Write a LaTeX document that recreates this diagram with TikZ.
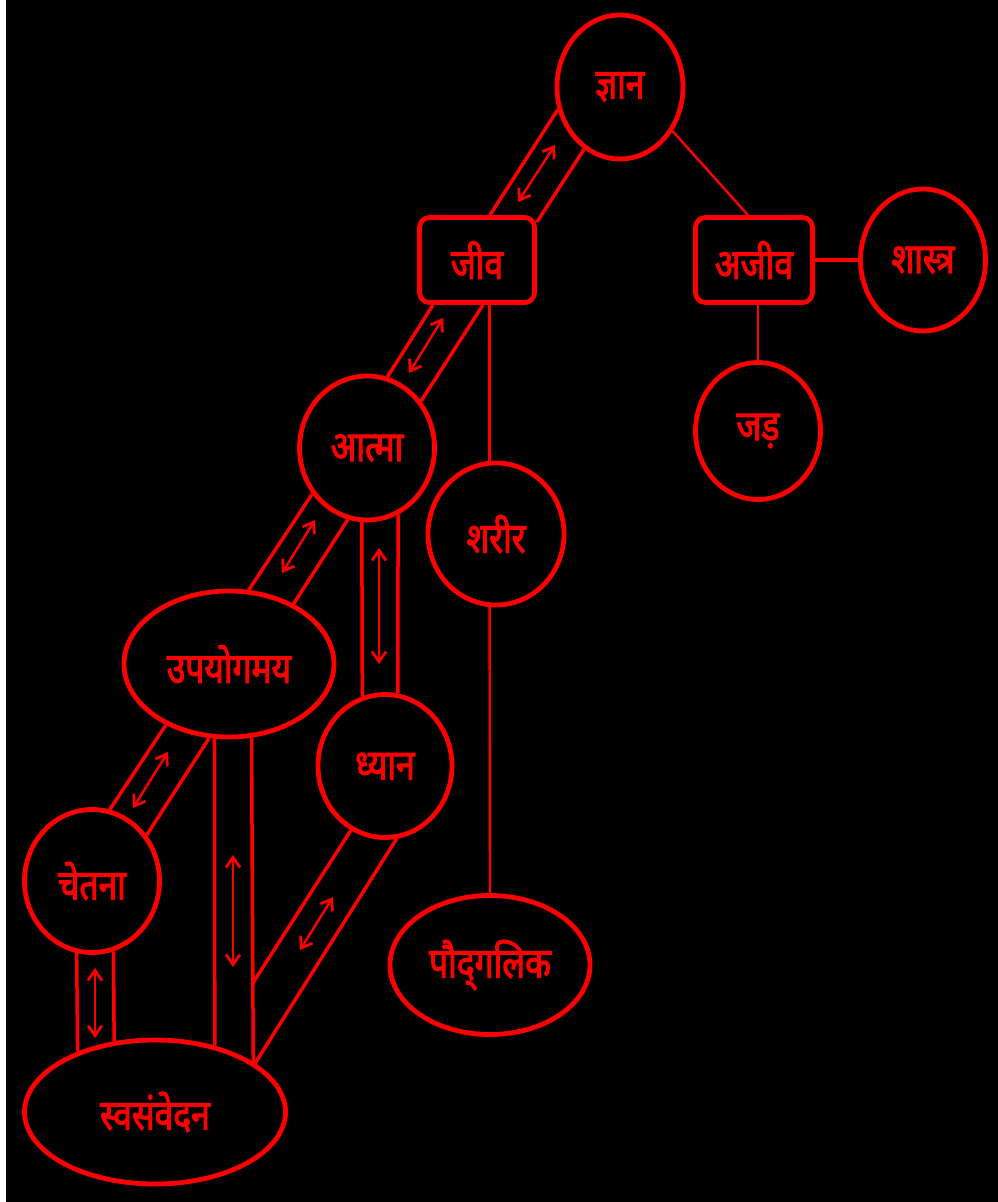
\documentclass[tikz,border=0pt]{standalone}
\usepackage{fontspec}
\newfontfamily\dev[Script=Devanagari,FakeBold=2.5,FakeStretch=0.8]{Noto Sans}
\usetikzlibrary{shapes.geometric,arrows.meta,calc}
\begin{document}
\begin{tikzpicture}[x=1pt,y=-1pt,
  lbl/.style={text=red,inner sep=0pt,outer sep=2.4pt,draw=red,line width=4.8pt,font=\dev\fontsize{42}{44}\selectfont},
  ell/.style={lbl,ellipse},
  box/.style={lbl,rectangle,rounded corners=10pt},
  band/.style={draw=red,line width=3.5pt},
  thin/.style={draw=red,line width=2.4pt},
  dbl/.style={draw=red,line width=2.4pt,{Straight Barb[length=10pt,width=14pt,line width=2.8pt]}-{Straight Barb[length=10pt,width=14pt,line width=2.8pt]}}]
\fill[white] (0,0) rectangle (998,1202);
\fill[black] (6,0) rectangle (998,1202);
\useasboundingbox (0,0) rectangle (998,1202);

% nodes
\node[ell,minimum width=126,minimum height=144] (zn) at (620,87) {ज्ञान};
\node[box,minimum width=115,minimum height=85] (jiva) at (477,260) {जीव};
\node[box,minimum width=117,minimum height=85] (ajiva) at (754,260) {अजीव};
\node[ell,minimum width=125,minimum height=142] (shas) at (923,260) {शास्त्र};
\node[ell,minimum width=125,minimum height=137] (jad) at (758,431) {जड़};
\node[ell,minimum width=135,minimum height=144] (atma) at (367,448) {आत्मा};
\node[ell,minimum width=136,minimum height=142] (shar) at (496,534) {शरीर};
\node[ell,minimum width=210,minimum height=146] (upay) at (229,664) {उपयोगमय};
\node[ell,minimum width=134,minimum height=143] (dhy) at (385,766) {ध्यान};
\node[ell,minimum width=135,minimum height=143] (chet) at (92,881) {चेतना};
\node[ell,minimum width=261,minimum height=144] (svas) at (155,1112) {स्वसंवेदन};
\node[ell,minimum width=200,minimum height=139] (paud) at (490,965) {पौद्‌गलिक};

% arrow coordinates
\coordinate (a1s) at (555,145); \coordinate (a1e) at (518,202);
\coordinate (a2s) at (443,318); \coordinate (a2e) at (409,373);
\coordinate (a3s) at (315,520); \coordinate (a3e) at (282,573);
\coordinate (a4s) at (379,548); \coordinate (a4e) at (379,664);
\coordinate (a5s) at (168,752); \coordinate (a5e) at (133,808);
\coordinate (a6s) at (233,855); \coordinate (a6e) at (233,967);
\coordinate (a7s) at (333,897); \coordinate (a7e) at (300,950);
\coordinate (a8s) at (95,968);  \coordinate (a8e) at (95,1038);

% zn - jiva
\draw[band] (zn.200) -- ($(jiva.north)+(13,0)$);
\draw[band] (zn.240) -- ($(jiva.north east)+(0,7)$);
\draw[dbl] (a1s) -- (a1e);
% zn - ajiva
\draw[thin] (zn.-40) -- ($(ajiva.north)+(-6,0)$);
% ajiva - shas, jad
\draw[band] (ajiva.east) -- (shas.west);
\draw[thin] (jad.north |- ajiva.south) -- (jad.north);
% jiva - atma
\draw[band] ($(jiva.south)+(-44,0)$) -- (atma.74);
\draw[band] ($(jiva.south)+(6,0)$) -- (atma.41);
\draw[dbl] (a2s) -- (a2e);
% jiva - shar - paud
\draw[thin] (shar.95 |- jiva.south) -- (shar.95);
\draw[thin] (shar.265) -- (paud.north);
% atma - upay
\draw[band] (atma.220) -- (upay.75);
\draw[band] (atma.255) -- (upay.43);
\draw[dbl] (a3s) -- (a3e);
% atma - dhy
\draw[band] (atma.266) -- (dhy.108);
\draw[band] (atma.295) -- (dhy.80);
\draw[dbl] (a4s) -- (a4e);
% upay - chet
\draw[band] (upay.224) -- (chet.76);
\draw[band] (upay.255) -- (chet.40);
\draw[dbl] (a5s) -- (a5e);
% upay - svas
\draw[band] (upay.259) -- (svas.48);
\draw[band] (upay.287) -- (svas.27.5);
\draw[dbl] (a6s) -- (a6e);
% dhy - svas
\coordinate (dj) at (upay.287 |- 0,985);
\draw[band] (dhy.242) -- (dj);
\draw[band] (dhy.279) -- (svas.26);
\draw[dbl] (a7s) -- (a7e);
% chet - svas
\draw[band] (chet.258) -- (svas.142);
\draw[band] (chet.287) -- (svas.120);
\draw[dbl] (a8s) -- (a8e);
\end{tikzpicture}
\end{document}
